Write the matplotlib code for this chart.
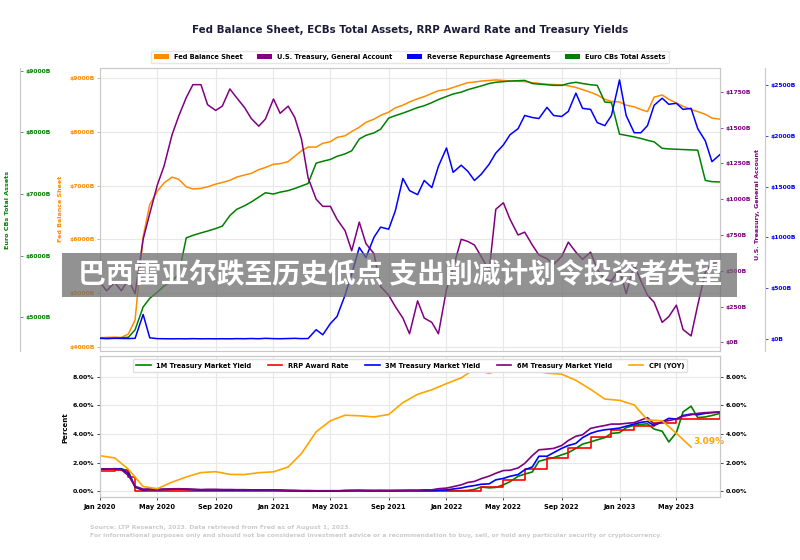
import matplotlib
matplotlib.use('Agg')
import matplotlib.pyplot as plt
import matplotlib.dates as mdates
from matplotlib.patches import Patch, Rectangle
from matplotlib.ticker import FuncFormatter, FixedLocator
import pandas as pd

plt.rcParams['font.family'] = ['DejaVu Sans']
plt.rcParams['font.weight'] = 'bold'

# ---------------- data (semi-monthly, 1st & 15th, Jan 2020 - Aug 2023) ----------------
dates = pd.date_range('2020-01-01', '2023-08-01', freq='SMS')

fed_balance = [4170, 4175, 4180, 4175, 4240, 4500, 6050, 6650, 6900, 7050,
               7160, 7120, 6980, 6940, 6950, 6980, 7030, 7060, 7100, 7160,
               7200, 7230, 7300, 7340, 7400, 7410, 7450, 7550, 7650, 7720,
               7720, 7790, 7820, 7900, 7930, 8010, 8090, 8180, 8240, 8310,
               8370, 8450, 8500, 8560, 8620, 8660, 8720, 8770, 8790, 8830,
               8880, 8920, 8930, 8950, 8960, 8970, 8960, 8950, 8945, 8940,
               8920, 8905, 8890, 8885, 8880, 8860, 8830, 8790, 8740, 8690,
               8610, 8570, 8560, 8500, 8470, 8420, 8380, 8650, 8690, 8610,
               8540, 8480, 8420, 8380, 8330, 8260, 8240]

euro_cbs = [4665, 4660, 4665, 4670, 4680, 4800, 5170, 5310, 5410, 5510,
            5590, 5700, 6290, 6330, 6370, 6400, 6440, 6480, 6650, 6750,
            6810, 6870, 6950, 7020, 7000, 7030, 7055, 7090, 7130, 7170,
            7500, 7530, 7560, 7610, 7650, 7700, 7890, 7950, 7990, 8050,
            8230, 8270, 8310, 8350, 8400, 8430, 8480, 8530, 8580, 8620,
            8650, 8690, 8720, 8750, 8790, 8810, 8820, 8830, 8835, 8840,
            8790, 8780, 8770, 8760, 8760, 8790, 8810, 8790, 8770, 8760,
            8490, 8480, 7970, 7950, 7925, 7900, 7870, 7845, 7740, 7730,
            7725, 7720, 7715, 7710, 7220, 7200, 7195]

tga = [420, 360, 420, 360, 440, 340, 720, 900, 1100, 1230,
       1450, 1580, 1710, 1800, 1800, 1660, 1620, 1650, 1770, 1710,
       1640, 1564, 1510, 1560, 1700, 1600, 1650, 1570, 1420, 1150,
       1000, 950, 950, 860, 780, 640, 840, 690, 620, 390,
       330, 250, 170, 60, 290, 170, 140, 60, 370, 520,
       720, 705, 680, 600, 500, 930, 975, 860, 750, 770,
       680, 610, 585, 545, 600, 700, 630, 580, 630, 510,
       440, 430, 510, 340, 540, 430, 330, 280, 140, 180,
       260, 90, 45, 260, 490, 550, 565]

rrp = [5, 3, 5, 4, 3, 5, 240, 10, 2, 1,
       0, 1, 0, 2, 0, 1, 0, 1, 0, 2,
       1, 3, 1, 5, 2, 1, 3, 5, 2, 3,
       90, 40, 150, 220, 430, 640, 900, 800, 1000, 1100,
       1080, 1260, 1580, 1460, 1420, 1560, 1490, 1700, 1880, 1640,
       1710, 1650, 1560, 1620, 1720, 1830, 1910, 2010, 2070, 2200,
       2180, 2170, 2280, 2200, 2190, 2240, 2420, 2270, 2260, 2130,
       2100, 2200, 2550, 2200, 2030, 2030, 2100, 2300, 2370, 2310,
       2320, 2260, 2270, 2070, 1950, 1745, 1815]

yield_1m = [1.52, 1.55, 1.57, 1.58, 1.40, 0.30, 0.05, 0.10, 0.10, 0.12,
            0.12, 0.14, 0.13, 0.11, 0.09, 0.08, 0.09, 0.09, 0.08, 0.09,
            0.08, 0.08, 0.08, 0.08, 0.08, 0.06, 0.04, 0.04, 0.03, 0.01,
            0.02, 0.01, 0.01, 0.02, 0.04, 0.05, 0.05, 0.05, 0.05, 0.05,
            0.05, 0.05, 0.06, 0.06, 0.05, 0.05, 0.05, 0.04, 0.05, 0.04,
            0.04, 0.06, 0.13, 0.30, 0.24, 0.27, 0.45, 0.67, 1.05, 1.20,
            1.35, 2.10, 2.25, 2.35, 2.55, 2.70, 3.00, 3.30, 3.45, 3.60,
            3.75, 4.05, 4.10, 4.45, 4.62, 4.68, 4.72, 4.35, 4.20, 3.45,
            4.10, 5.55, 5.95, 5.15, 5.20, 5.30, 5.45]

rrp_rate = [1.45, 1.45, 1.50, 1.50, 1.00, 0.00, 0.00, 0.00, 0.00, 0.00,
            0.00, 0.00, 0.00, 0.00, 0.00, 0.00, 0.00, 0.00, 0.00, 0.00,
            0.00, 0.00, 0.00, 0.00, 0.00, 0.00, 0.00, 0.00, 0.00, 0.00,
            0.00, 0.00, 0.00, 0.00, 0.00, 0.05, 0.05, 0.05, 0.05, 0.05,
            0.05, 0.05, 0.05, 0.05, 0.05, 0.05, 0.05, 0.05, 0.05, 0.05,
            0.05, 0.05, 0.05, 0.30, 0.30, 0.30, 0.80, 0.80, 0.80, 1.55,
            1.55, 1.55, 2.30, 2.30, 2.30, 3.05, 3.05, 3.05, 3.80, 3.80,
            3.80, 4.30, 4.30, 4.30, 4.55, 4.55, 4.55, 4.80, 4.80, 4.80,
            5.05, 5.05, 5.05, 5.05, 5.05, 5.05, 5.30]

yield_3m = [1.55, 1.56, 1.58, 1.55, 1.25, 0.30, 0.10, 0.13, 0.12, 0.13,
            0.15, 0.16, 0.14, 0.12, 0.10, 0.11, 0.11, 0.10, 0.10, 0.10,
            0.09, 0.09, 0.09, 0.09, 0.08, 0.07, 0.04, 0.04, 0.03, 0.02,
            0.02, 0.02, 0.02, 0.02, 0.05, 0.05, 0.06, 0.05, 0.04, 0.05,
            0.04, 0.05, 0.05, 0.06, 0.05, 0.05, 0.05, 0.08, 0.09, 0.16,
            0.23, 0.33, 0.40, 0.49, 0.52, 0.80, 0.90, 1.05, 1.17, 1.50,
            1.70, 2.45, 2.45, 2.70, 3.00, 3.20, 3.35, 3.75, 4.05, 4.20,
            4.30, 4.35, 4.42, 4.55, 4.70, 4.82, 4.88, 4.60, 4.85, 5.10,
            5.05, 5.30, 5.40, 5.35, 5.45, 5.50, 5.55]

yield_6m = [1.56, 1.57, 1.56, 1.50, 1.10, 0.35, 0.15, 0.16, 0.13, 0.15,
            0.17, 0.18, 0.16, 0.14, 0.12, 0.13, 0.13, 0.12, 0.12, 0.11,
            0.11, 0.10, 0.10, 0.09, 0.09, 0.08, 0.07, 0.06, 0.05, 0.05,
            0.04, 0.04, 0.04, 0.04, 0.05, 0.06, 0.06, 0.05, 0.05, 0.05,
            0.05, 0.05, 0.05, 0.06, 0.07, 0.10, 0.10, 0.18, 0.22, 0.32,
            0.45, 0.62, 0.69, 0.88, 1.06, 1.26, 1.45, 1.47, 1.63, 1.95,
            2.50, 2.90, 2.95, 3.00, 3.20, 3.55, 3.85, 3.95, 4.40, 4.50,
            4.60, 4.70, 4.70, 4.75, 4.80, 4.98, 5.15, 4.70, 4.85, 4.95,
            5.05, 5.25, 5.35, 5.45, 5.50, 5.52, 5.53]

cpi_dates = pd.date_range('2020-01-01', '2023-06-01', freq='MS')
cpi_yoy = [2.49, 2.33, 1.54, 0.33, 0.18, 0.64, 1.00, 1.31, 1.37, 1.18, 1.17, 1.30,
           1.36, 1.70, 2.64, 4.16, 4.93, 5.32, 5.28, 5.20, 5.37, 6.20, 6.78, 7.10,
           7.53, 7.93, 8.55, 8.24, 8.58, 8.99, 8.48, 8.26, 8.19, 7.76, 7.13, 6.45,
           6.36, 6.04, 4.99, 4.93, 4.05, 3.09]

fed_ticks = [4000, 5000, 6000, 7000, 8000, 9000]
euro_ticks = [5000, 6000, 7000, 8000, 9000]
tga_ticks = [0, 250, 500, 750, 1000, 1250, 1500, 1750]
rrp_ticks = [0, 500, 1000, 1500, 2000, 2500]
pct_ticks = [0, 2, 4, 6, 8]

C_FED = '#FF8C00'
C_EURO = '#008000'
C_TGA = '#800080'
C_RRP = '#0000FF'
C_CPI = '#FFA500'
C_RED = '#FF0000'
SPINE = '#c8c8c8'
GRID = '#e8e8e8'
TICK_FS = 4.3
TICK_KW = dict(labelsize=TICK_FS, length=2.5, width=0.5, pad=1.5)

billions = FuncFormatter(lambda v, p: f"${v:.0f}B")
percent = FuncFormatter(lambda v, p: f"{v:.2f}%")

fig = plt.figure(figsize=(8, 5.6), dpi=100)

# ---------------- top panel ----------------
ax = fig.add_axes([0.125, 0.373, 0.775, 0.506])
ax.patch.set_alpha(0)
ax.plot(dates, fed_balance, color=C_FED, lw=1.1)
ax.set_ylim(3920, 9197)
ax.yaxis.set_major_locator(FixedLocator(fed_ticks))
ax.yaxis.set_major_formatter(billions)
ax.tick_params(axis='y', colors=C_FED, **TICK_KW)
ax.tick_params(axis='x', labelbottom=False, length=0)
ax.grid(True, color=GRID, lw=0.8)
for s in ax.spines.values():
    s.set_color(SPINE)
    s.set_linewidth(0.8)

ax_e = ax.twinx()
ax_e.plot(dates, euro_cbs, color=C_EURO, lw=1.1)
ax_e.set_ylim(4455, 9045)
ax_e.spines['right'].set_position(('axes', -0.129))
for k in ['left', 'top', 'bottom']:
    ax_e.spines[k].set_visible(False)
ax_e.spines['right'].set_color(SPINE)
ax_e.yaxis.set_major_locator(FixedLocator(euro_ticks))
ax_e.yaxis.set_major_formatter(billions)
ax_e.tick_params(axis='y', colors=C_EURO, **TICK_KW)

ax_t = ax.twinx()
ax_t.plot(dates, tga, color=C_TGA, lw=1.1)
ax_t.set_ylim(-61, 1918)
for k in ['left', 'top', 'bottom']:
    ax_t.spines[k].set_visible(False)
ax_t.spines['right'].set_color(SPINE)
ax_t.yaxis.set_major_locator(FixedLocator(tga_ticks))
ax_t.yaxis.set_major_formatter(billions)
ax_t.tick_params(axis='y', colors=C_TGA, **TICK_KW)

ax_r = ax.twinx()
ax_r.plot(dates, rrp, color=C_RRP, lw=1.1)
ax_r.set_ylim(-121, 2670)
ax_r.spines['right'].set_position(('axes', 1.0726))
for k in ['left', 'top', 'bottom']:
    ax_r.spines[k].set_visible(False)
ax_r.spines['right'].set_color(SPINE)
ax_r.yaxis.set_major_locator(FixedLocator(rrp_ticks))
ax_r.yaxis.set_major_formatter(billions)
ax_r.tick_params(axis='y', colors=C_RRP, **TICK_KW)

# ---------------- bottom panel ----------------
ax2 = fig.add_axes([0.125, 0.112, 0.775, 0.252], sharex=ax)
ax2.plot(dates, yield_1m, color=C_EURO, lw=1.2, label='1M Treasury Market Yield')
ax2.plot(dates, rrp_rate, color=C_RED, lw=1.2, drawstyle='steps-post', label='RRP Award Rate')
ax2.plot(dates, yield_3m, color=C_RRP, lw=1.2, label='3M Treasury Market Yield')
ax2.plot(dates, yield_6m, color=C_TGA, lw=1.2, label='6M Treasury Market Yield')
ax2.plot(cpi_dates, cpi_yoy, color=C_CPI, lw=1.2, label='CPI (YOY)')
ax2.annotate(f"{cpi_yoy[-1]:.2f}%", xy=(cpi_dates[-1], cpi_yoy[-1]), xytext=(2, 4),
             textcoords='offset points', color=C_CPI, fontsize=6.5, fontweight='bold',
             ha='left', va='center')
ax2.set_ylim(-0.42, 9.45)
ax2.yaxis.set_major_locator(FixedLocator(pct_ticks))
ax2.yaxis.set_major_formatter(percent)
ax2.tick_params(axis='y', colors='black', labelsize=4.5, length=2.5, width=0.5, pad=1.5)
ax2.tick_params(axis='x', colors='black', labelsize=4.8, length=2.5, width=0.5, pad=2)
ax2.grid(True, color=GRID, lw=0.8)
for s in ax2.spines.values():
    s.set_color(SPINE)
    s.set_linewidth(0.8)
ax2.set_xlim(pd.Timestamp('2020-01-01'), pd.Timestamp('2023-08-01'))
ax2.xaxis.set_major_locator(mdates.MonthLocator(bymonth=[1, 5, 9]))
ax2.xaxis.set_major_formatter(mdates.DateFormatter('%b %Y'))
ax2.legend(loc='upper center', bbox_to_anchor=(0.5, 1.0), ncol=5, fontsize=4.8,
           frameon=True, edgecolor='#e0e0e0', handlelength=2.2, columnspacing=2.5,
           borderpad=0.5, fancybox=True, framealpha=1)

ax2r = ax2.twinx()
ax2r.set_ylim(-0.42, 9.45)
ax2r.yaxis.set_major_locator(FixedLocator(pct_ticks))
ax2r.yaxis.set_major_formatter(percent)
ax2r.tick_params(axis='y', colors='black', labelsize=4.5, length=2.5, width=0.5, pad=1.5)
for s in ax2r.spines.values():
    s.set_color(SPINE)
    s.set_linewidth(0.8)

# ---------------- texts ----------------
fig.text(0.5125, 1 - 30 / 560, 'Fed Balance Sheet, ECBs Total Assets, RRP Award Rate and Treasury Yields',
         ha='center', va='center', fontsize=7.35, fontweight='bold', color='#1c1c3a')

handles = [Patch(facecolor=C_FED, label='Fed Balance Sheet'),
           Patch(facecolor=C_TGA, label='U.S. Treasury, General Account'),
           Patch(facecolor=C_RRP, label='Reverse Repurchase Agreements'),
           Patch(facecolor=C_EURO, label='Euro CBs Total Assets')]
fig.legend(handles=handles, loc='center', bbox_to_anchor=(0.5125, 1 - 57 / 560), ncol=4,
           fontsize=4.8, frameon=True, edgecolor='#e6e6e6', handlelength=2.2, handleheight=0.7,
           columnspacing=2.2, borderpad=0.5, framealpha=1)

fig.text(8 / 800, 1 - 210 / 560, 'Euro CBs Total Assets', rotation=90, ha='center', va='center',
         fontsize=4.6, color=C_EURO, fontweight='bold')
fig.text(60 / 800, 1 - 209 / 560, 'Fed Balance Sheet', rotation=90, ha='center', va='center',
         fontsize=4.6, color=C_FED, fontweight='bold')
fig.text(758 / 800, 1 - 204 / 560, 'U.S. Treasury, General Account', rotation=90, ha='center',
         va='center', fontsize=4.6, color=C_TGA, fontweight='bold')
fig.text(65 / 800, 1 - 428 / 560, 'Percent', rotation=90, ha='center', va='center',
         fontsize=5, color='black', fontweight='bold')

fig.text(90 / 800, 1 - 527 / 560,
         'Source: LTP Research, 2023. Data retrieved from Fred as of August 1, 2023.',
         fontsize=4.4, color='#cccccc', fontweight='bold', ha='left', va='center')
fig.text(90 / 800, 1 - 535 / 560,
         'For informational purposes only and should not be considered investment advice or a '
         'recommendation to buy, sell, or hold any particular security or cryptocurrency.',
         fontsize=4.4, color='#cccccc', fontweight='bold', ha='left', va='center')

# banner overlay
fig.patches.append(Rectangle((62 / 800, 1 - 297 / 560), 675 / 800, 44 / 560,
                             transform=fig.transFigure, facecolor='#6e6e6e', alpha=0.75,
                             edgecolor='none', zorder=50))
fig.text(400 / 800, 1 - 275 / 560, '巴西雷亚尔跌至历史低点 支出削减计划令投资者失望',
         ha='center', va='center', fontsize=20, color='white', fontweight='bold',
         family=['Noto Sans CJK SC', 'DejaVu Sans'], zorder=51)

fig.savefig('out.png', dpi=100)
